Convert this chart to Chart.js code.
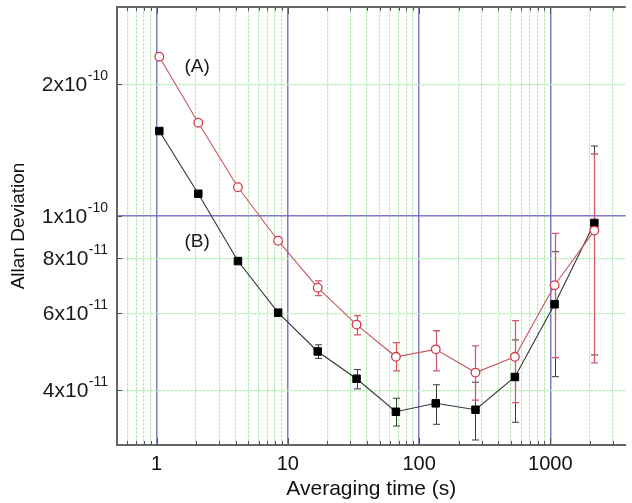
<!DOCTYPE html>
<html>
<head>
<meta charset="utf-8">
<script src="https://cdn.jsdelivr.net/npm/chart.js@4.4.0/dist/chart.umd.min.js"></script>
<style>
  html, body { margin: 0; padding: 0; background: #fff; }
</style>
</head>
<body>
<canvas id="chart" width="632" height="503"></canvas>
<script>
// averaging time (s)
const tau = [1.05, 2.08, 4.17, 8.44, 16.9, 33.4, 66.6, 134, 269, 537, 1077, 2165];

// (A) open circles
const adevA     = [2.31e-10, 1.633e-10, 1.163e-10, 8.78e-11, 6.86e-11, 5.65e-11, 4.77e-11, 4.96e-11, 4.39e-11, 4.77e-11, 6.95e-11, 9.26e-11];
const adevALow  = [2.29e-10, 1.62e-10, 1.153e-10, 8.65e-11, 6.58e-11, 5.35e-11, 4.43e-11, 4.43e-11, 3.80e-11, 3.75e-11, 4.75e-11, 4.62e-11];
const adevAHigh = [2.33e-10, 1.646e-10, 1.173e-10, 8.92e-11, 7.11e-11, 5.92e-11, 5.14e-11, 5.47e-11, 5.05e-11, 5.77e-11, 9.13e-11, 1.385e-10];

// (B) filled squares
const adevB     = [1.563e-10, 1.124e-10, 7.89e-11, 6.015e-11, 4.905e-11, 4.25e-11, 3.573e-11, 3.735e-11, 3.611e-11, 4.289e-11, 6.288e-11, 9.64e-11];
const adevBLow  = [1.55e-10, 1.115e-10, 7.82e-11, 5.92e-11, 4.73e-11, 4.03e-11, 3.315e-11, 3.345e-11, 3.08e-11, 3.381e-11, 4.296e-11, 4.817e-11];
const adevBHigh = [1.575e-10, 1.133e-10, 7.96e-11, 6.11e-11, 5.08e-11, 4.46e-11, 3.836e-11, 4.118e-11, 4.173e-11, 5.211e-11, 8.288e-11, 1.4445e-10];

// axis ticks
const xMajor = [1, 10, 100, 1000];
const xTicks = [0.6, 0.7, 0.8, 0.9,
                1, 2, 3, 4, 5, 6, 7, 8, 9,
                10, 20, 30, 40, 50, 60, 70, 80, 90,
                100, 200, 300, 400, 500, 600, 700, 800, 900,
                1000, 2000, 3000];
const yTicks = [4e-11, 6e-11, 8e-11, 1e-10, 2e-10];
const yTickBase = ['4x10', '6x10', '8x10', '1x10', '2x10'];
const yTickExp = ['-11', '-11', '-11', '-10', '-10'];

// series tags placed in data space
const tagText = ['(A)', '(B)'];
const tagX = [2.04, 2.04];
const tagY = [2.19e-10, 8.72e-11];

const FONT = '"Liberation Sans", Arial, sans-serif';
const BLUE = 'rgba(110, 110, 200, 0.9)';
const GREEN = 'rgb(188, 233, 188)';

const toPoints = (ys) => tau.map((t, i) => ({ x: t, y: ys[i] }));

// error bars under the markers
const errorBars = {
    id: 'errorBars',
    beforeDatasetsDraw(chart) {
        const { ctx } = chart;
        const ys = chart.scales.y;
        ctx.save();
        for (let i = chart.data.datasets.length - 1; i >= 0; i--) {
            const ds = chart.data.datasets[i];
            const meta = chart.getDatasetMeta(i);
            ctx.strokeStyle = ds.barColor;
            ctx.lineWidth = ds.barWidth;
            meta.data.forEach((pt, j) => {
                const px = Math.round(pt.x) + 0.5;
                const lo = ys.getPixelForValue(ds.errLow[j]);
                const hi = ys.getPixelForValue(ds.errHigh[j]);
                ctx.beginPath();
                ctx.moveTo(px, lo);
                ctx.lineTo(px, hi);
                ctx.moveTo(px - 3.5, lo);
                ctx.lineTo(px + 3.5, lo);
                ctx.moveTo(px - 3.5, hi);
                ctx.lineTo(px + 3.5, hi);
                ctx.stroke();
            });
        }
        ctx.restore();
    }
};

// inward ticks, top frame line, y labels with exponents, series tags
const frame = {
    id: 'frame',
    beforeDatasetsDraw(chart) {
        const { ctx, chartArea: a } = chart;
        const xs = chart.scales.x;
        const ys = chart.scales.y;
        ctx.save();
        ctx.strokeStyle = '#555';
        ctx.lineWidth = 1;
        ctx.beginPath();
        xTicks.forEach(v => {
            const px = Math.round(xs.getPixelForValue(v)) + 0.5;
            const len = xMajor.includes(v) ? 7 : 4;
            ctx.moveTo(px, a.bottom);
            ctx.lineTo(px, a.bottom - len);
            ctx.moveTo(px, a.top);
            ctx.lineTo(px, a.top + len);
        });
        yTicks.forEach(v => {
            const py = Math.round(ys.getPixelForValue(v)) + 0.5;
            ctx.moveTo(a.left, py);
            ctx.lineTo(a.left + 5, py);
        });
        ctx.stroke();
        ctx.strokeStyle = '#666';
        ctx.lineWidth = 2;
        ctx.beginPath();
        ctx.moveTo(a.left, a.top);
        ctx.lineTo(a.right, a.top);
        ctx.stroke();
        ctx.restore();
    },
    afterDraw(chart) {
        const { ctx } = chart;
        const xs = chart.scales.x;
        const ys = chart.scales.y;
        ctx.save();
        ctx.fillStyle = '#1a1a1a';
        ctx.textBaseline = 'middle';
        yTicks.forEach((v, i) => {
            const py = ys.getPixelForValue(v);
            ctx.font = '14px ' + FONT;
            const ew = ctx.measureText(yTickExp[i]).width;
            const supLeft = 108 - ew;
            ctx.textAlign = 'left';
            ctx.fillText(yTickExp[i], supLeft, py - 8);
            ctx.font = '21px ' + FONT;
            ctx.textAlign = 'right';
            ctx.fillText(yTickBase[i], supLeft - 0.5, py + 1);
        });
        ctx.font = '19px ' + FONT;
        ctx.textAlign = 'center';
        tagText.forEach((t, i) => {
            ctx.fillText(t, xs.getPixelForValue(tagX[i]), ys.getPixelForValue(tagY[i]));
        });
        ctx.restore();
    }
};

new Chart(document.getElementById('chart'), {
    type: 'scatter',
    data: {
        datasets: [
            {
                label: '(A)',
                data: toPoints(adevA),
                showLine: true,
                borderColor: '#c85560',
                borderWidth: 1.1,
                pointStyle: 'circle',
                pointRadius: 4.3,
                pointBackgroundColor: '#fff',
                pointBorderColor: '#d03c48',
                pointBorderWidth: 1.3,
                errLow: adevALow,
                errHigh: adevAHigh,
                barColor: '#d3586a',
                barWidth: 1.3
            },
            {
                label: '(B)',
                data: toPoints(adevB),
                showLine: true,
                borderColor: '#333',
                borderWidth: 1.1,
                pointStyle: 'rect',
                pointRadius: 5.3,
                pointBackgroundColor: '#000',
                pointBorderColor: '#000',
                pointBorderWidth: 1,
                errLow: adevBLow,
                errHigh: adevBHigh,
                barColor: '#3a3a3a',
                barWidth: 1
            }
        ]
    },
    options: {
        responsive: false,
        animation: false,
        devicePixelRatio: 1,
        layout: { padding: { top: 7, right: 0, left: 0, bottom: 0 } },
        plugins: {
            legend: { display: false },
            tooltip: { enabled: false }
        },
        scales: {
            x: {
                type: 'logarithmic',
                min: 0.5,
                max: 3750,
                afterBuildTicks: (s) => { s.ticks = xTicks.map(v => ({ value: v })); },
                afterFit: (s) => { s.height = 58; },
                ticks: {
                    autoSkip: false,
                    maxRotation: 0,
                    padding: 7,
                    color: '#111',
                    font: { family: FONT, size: 20 },
                    callback: (v) => xMajor.includes(v) ? String(v) : ''
                },
                grid: {
                    drawTicks: false,
                    color: (c) => c.tick && xMajor.includes(c.tick.value) ? BLUE : GREEN,
                    lineWidth: (c) => c.tick && xMajor.includes(c.tick.value) ? 1.5 : 1.2
                },
                border: {
                    color: '#666',
                    width: 2,
                    dash: (c) => c.tick && !xMajor.includes(c.tick.value) ? [3, 1] : []
                },
                title: {
                    display: true,
                    text: 'Averaging time (s)',
                    color: '#111',
                    font: { family: FONT, size: 21 },
                    padding: { top: 0, bottom: 1 }
                }
            },
            y: {
                type: 'logarithmic',
                min: 3e-11,
                max: 3e-10,
                afterBuildTicks: (s) => { s.ticks = yTicks.map(v => ({ value: v })); },
                afterFit: (s) => { s.width = 117; },
                ticks: { display: false },
                grid: {
                    drawTicks: false,
                    color: (c) => c.tick && c.tick.value === 1e-10 ? BLUE : GREEN,
                    lineWidth: (c) => c.tick && c.tick.value === 1e-10 ? 1.5 : 1.2
                },
                border: {
                    color: '#666',
                    width: 2,
                    dash: (c) => c.tick && c.tick.value !== 1e-10 ? [3, 1] : []
                },
                title: {
                    display: true,
                    text: 'Allan Deviation',
                    color: '#111',
                    font: { family: FONT, size: 19 },
                    padding: { top: 7, bottom: 0 }
                }
            }
        }
    },
    plugins: [errorBars, frame]
});
</script>
</body>
</html>
